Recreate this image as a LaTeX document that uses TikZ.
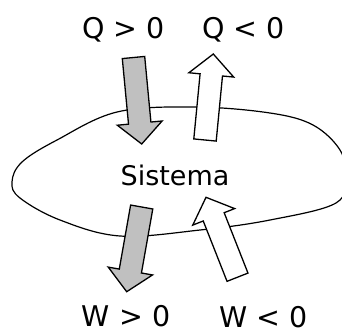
\documentclass[tikz,border=0pt]{standalone}
\usepackage{fontspec}
\setmainfont{DejaVu Sans}
\usetikzlibrary{calc}
\definecolor{arrgray}{RGB}{192,192,192}
\tikzset{
  blob/.style={draw=black, line width=1.2pt},
  arrowbody/.style={draw=black, line width=1.3pt, line join=miter},
  lbl/.style={anchor=base, inner sep=0pt, font=\fontsize{28.5}{34}\selectfont},
  sys/.style={anchor=base, inner sep=0pt, font=\fontsize{27}{32}\selectfont},
}
\newcommand\fatarrow[3]{%
  \path ($(#3)!21pt!(#2)$) coordinate (H);
  \draw[arrowbody, fill=#1]
    ($(#2)!11.25pt!90:(#3)$) -- ($(H)!11.25pt!90:(#3)$) --
    ($(H)!22.5pt!90:(#3)$) -- (#3) -- ($(H)!22.5pt!-90:(#3)$) --
    ($(H)!11.25pt!-90:(#3)$) -- ($(#2)!11.25pt!-90:(#3)$) -- cycle;
}
\begin{document}
\begin{tikzpicture}[x=1pt, y=-1pt]
\useasboundingbox (0,0) rectangle (342,333);
\begin{scope}
\clip (0,0) rectangle (342,333);
\draw[blob] plot[smooth cycle, tension=0.6] coordinates {
  (12,182) (22,162) (57,140) (117,112)
  (195,107) (270,113) (313,125) (340,150)
  (345,176) (336,203) (270,220) (200,230)
  (120,236) (60,220) (20,198)};
\end{scope}
\coordinate (qin-t) at (133.5,57.5);
\coordinate (qin-h) at (141.7,144);
\coordinate (qout-t) at (205,140);
\coordinate (qout-h) at (213.3,54);
\coordinate (win-t) at (141.7,207);
\coordinate (win-h) at (126.7,291.7);
\coordinate (wout-t) at (237.5,277.2);
\coordinate (wout-h) at (206,197.3);
\fatarrow{arrgray}{qin-t}{qin-h}
\fatarrow{white}{qout-t}{qout-h}
\fatarrow{arrgray}{win-t}{win-h}
\fatarrow{white}{wout-t}{wout-h}
\node[sys] (sis) at (175,185) {Sistema};
\node[lbl] (qpos) at (123.5,38) {Q > 0};
\node[lbl] (qneg) at (243.5,38) {Q < 0};
\node[lbl] (wpos) at (126,326) {W > 0};
\node[lbl] (wneg) at (263.5,327) {W < 0};
\end{tikzpicture}
\end{document}
